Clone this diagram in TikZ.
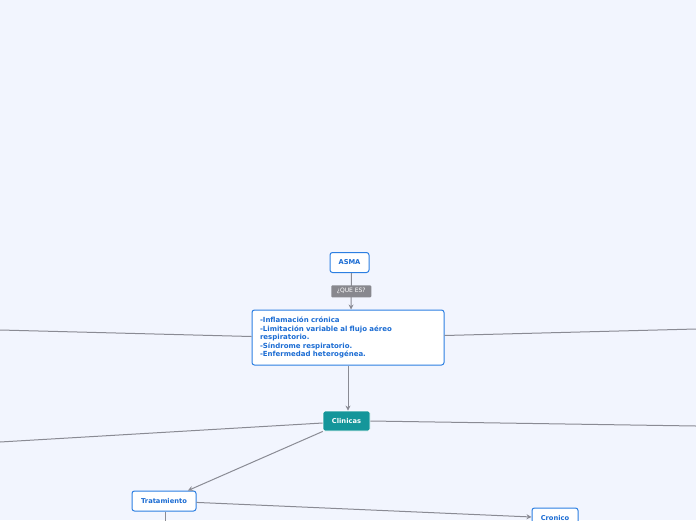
\documentclass[tikz,border=0pt]{standalone}
\usepackage{fontspec}
\setmainfont{DejaVu Sans}
\usetikzlibrary{arrows.meta}
\definecolor{bgcol}{HTML}{F2F5FE}
\definecolor{topicblue}{HTML}{2C7FE2}
\definecolor{textblue}{HTML}{1B6CD3}
\definecolor{teal}{HTML}{14969A}
\definecolor{linegray}{HTML}{8A8B94}
\definecolor{lblgray}{HTML}{88888E}
\tikzset{
  topic/.style={draw=topicblue, line width=1pt, fill=white, rounded corners=2.5pt, text=textblue, font=\fontsize{6.7}{8}\selectfont\bfseries, minimum height=20pt, inner xsep=6pt},
  maintopic/.style={draw=white, line width=0.8pt, fill=teal, rounded corners=2pt, text=white, font=\fontsize{6.7}{8}\selectfont\bfseries, minimum height=20pt, inner xsep=6pt},
  lbl/.style={fill=lblgray, text=white, font=\fontsize{6}{7}\selectfont, inner xsep=3pt, inner ysep=2pt, minimum width=40pt, minimum height=12pt, rounded corners=1pt},
  conn/.style={draw=linegray, line width=1pt},
  arr/.style={conn, -{Stealth[length=5pt,width=5pt]}}
}
\begin{document}
\begin{tikzpicture}[x=1pt,y=-1pt]
\fill[bgcol] (0,0) rectangle (696,520);
\useasboundingbox (0,0) rectangle (696,520);
\clip (0,0) rectangle (696,520);
\node[topic, minimum width=39pt] (asma) at (349.5,262.5) {ASMA};
\node[topic, align=left, text width=176pt, inner xsep=8pt, minimum height=55pt] (def) at (348,337.5) {\fontsize{7}{8.6}\selectfont -Inflamación crónica\\-Limitación variable al flujo aéreo\\respiratorio.\\-Síndrome respiratorio.\\-Enfermedad heterogénea.};
\node[maintopic, minimum width=47pt] (clin) at (346.5,421) {Clinicas};
\node[topic, minimum width=64pt] (trat) at (164,501) {Tratamiento};
\node[topic, minimum width=46pt] (cron) at (555,518) {Cronico};
\coordinate (defl) at (0,330);
\coordinate (defr) at (696,329);
\coordinate (clinl) at (0,442);
\coordinate (clinr) at (696,426);
\coordinate (tratd) at (165,530);
\draw[arr] ([xshift=2pt]asma.south) -- node[lbl] {¿QUE ES?} ([xshift=3pt]def.north);
\draw[conn] (def.west) ++(0,-1) -- (defl);
\draw[conn] (def.east) ++(0,-2) -- (defr);
\draw[arr] (def.south) -- (def.south |- clin.north);
\draw[conn] (clin.west) ++(0,2) -- (clinl);
\draw[conn] (clin.east) -- (clinr);
\draw[arr] (clin) -- (trat);
\draw[arr] (trat) -- (cron);
\draw[conn] (trat.south) ++(1,0) -- (tratd);
\end{tikzpicture}
\end{document}
